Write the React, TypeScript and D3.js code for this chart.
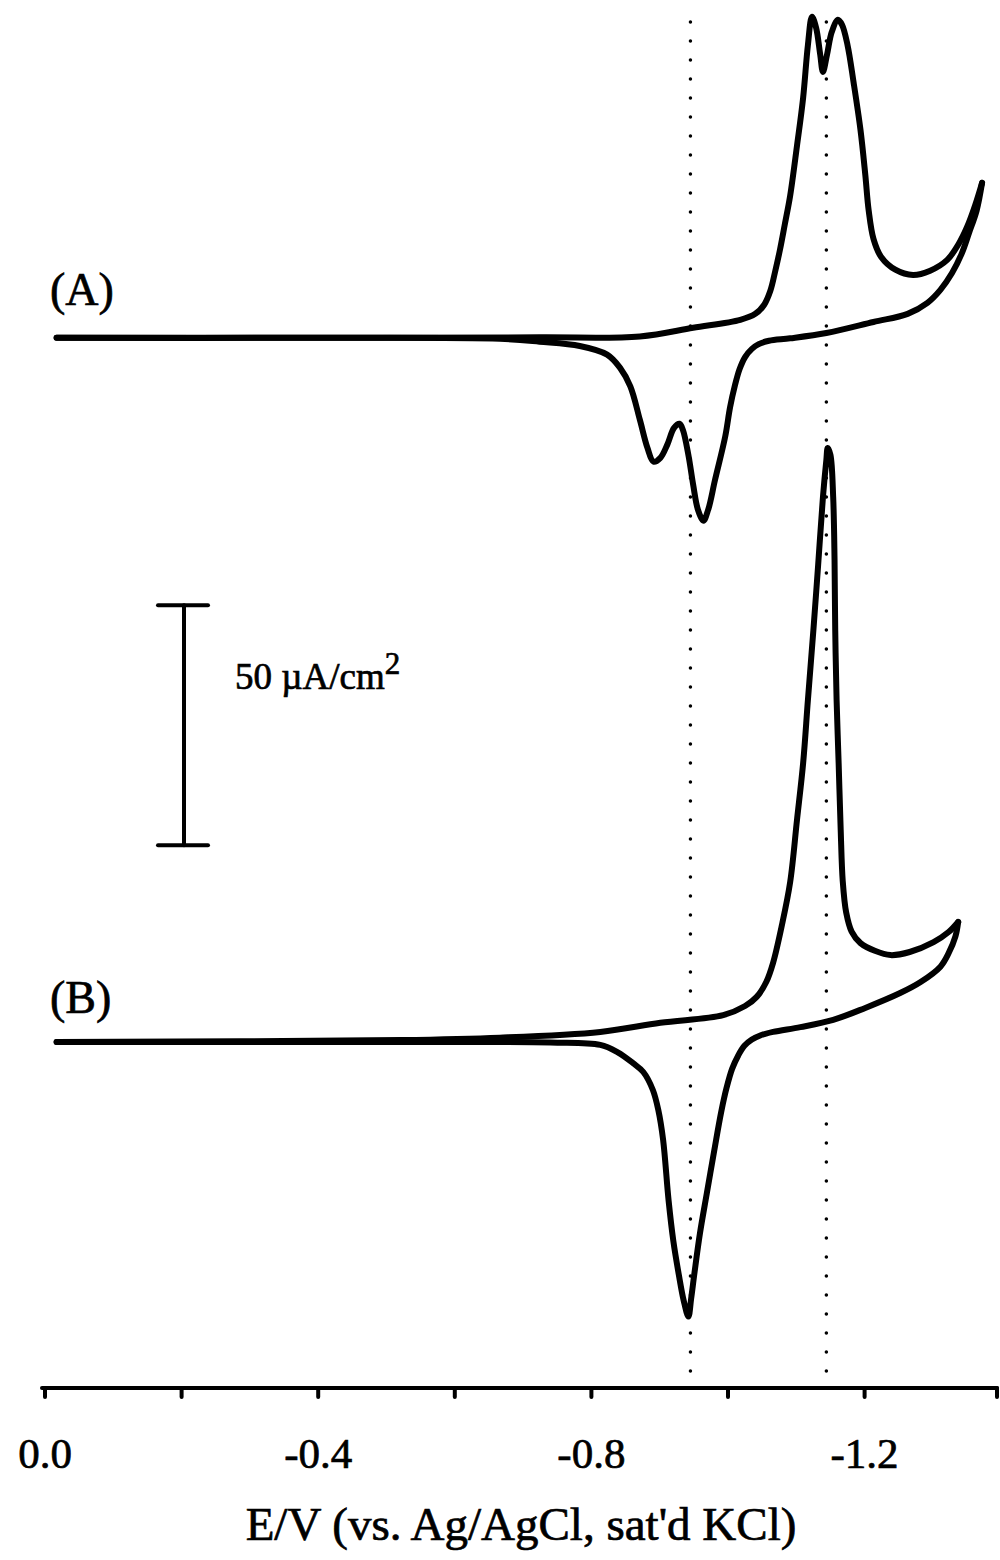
import React from "react";
import * as d3 from "d3";

// potential (V vs Ag/AgCl) and current density (uA/cm2, cathodic up)
const curveAForward: [number, number][] = [
  [-0.017, 0], [-0.373, 0], [-0.724, 0.1], [-0.871, 0.3], [-0.949, 2.1],
  [-1.018, 3.75], [-1.040, 5.0], [-1.053, 6.9], [-1.062, 9.8], [-1.069, 13.8],
  [-1.076, 18.3], [-1.083, 23.5], [-1.091, 29.6], [-1.101, 40.0], [-1.110, 50.0],
  [-1.117, 61.0], [-1.123, 66.9], [-1.129, 64.6], [-1.135, 59.0], [-1.139, 55.4],
  [-1.145, 59.0], [-1.152, 63.75], [-1.161, 66.25], [-1.167, 65.2], [-1.175, 61.0],
  [-1.184, 53.1], [-1.194, 43.3], [-1.201, 34.0], [-1.206, 26.5], [-1.213, 20.6],
  [-1.224, 16.9], [-1.245, 14.2], [-1.271, 13.1], [-1.296, 14.0], [-1.321, 16.25],
  [-1.337, 19.4], [-1.350, 23.1], [-1.362, 27.7], [-1.372, 32.3],
];

const curveAReturn: [number, number][] = [
  [-1.372, 32.3], [-1.364, 26.5], [-1.353, 21.9], [-1.342, 17.5], [-1.328, 13.5],
  [-1.311, 10.0], [-1.292, 7.3], [-1.263, 5.0], [-1.213, 3.3], [-1.144, 1.0],
  [-1.091, -0.1], [-1.060, -0.6], [-1.045, -1.3], [-1.035, -2.3], [-1.025, -4.0],
  [-1.017, -6.5], [-1.010, -10.0], [-1.003, -14.5], [-0.996, -20.5], [-0.981, -29.6],
  [-0.971, -35.8], [-0.964, -38.1], [-0.956, -35.8], [-0.949, -30.6], [-0.942, -24.4],
  [-0.934, -19.2], [-0.929, -17.9], [-0.921, -18.75], [-0.911, -22.3], [-0.901, -25.0],
  [-0.891, -25.8], [-0.882, -22.9], [-0.871, -17.1], [-0.857, -10.1], [-0.842, -6.25],
  [-0.823, -3.5], [-0.783, -1.7], [-0.724, -0.8], [-0.666, -0.2], [-0.373, 0],
  [-0.017, 0],
];

const curveBForward: [number, number][] = [
  [-0.017, 0], [-0.520, 0.4], [-0.666, 0.9], [-0.813, 2.1], [-0.901, 4.0],
  [-0.993, 5.6], [-1.025, 7.5], [-1.042, 9.4], [-1.056, 12.5], [-1.066, 16.5],
  [-1.079, 24.4], [-1.091, 33.3], [-1.101, 46.25], [-1.110, 58.1], [-1.117, 71.25],
  [-1.125, 85.8], [-1.132, 99.4], [-1.139, 113.5], [-1.144, 121.25], [-1.146, 123.75],
  [-1.150, 122.3], [-1.154, 113.5], [-1.156, 100.4], [-1.157, 85.8], [-1.159, 71.25],
  [-1.162, 58.1], [-1.165, 44.2], [-1.168, 33.5], [-1.173, 27.0], [-1.181, 23.0],
  [-1.194, 20.6], [-1.215, 19.0], [-1.238, 18.1], [-1.266, 18.75], [-1.301, 20.8],
  [-1.323, 22.9], [-1.337, 25.0],
];

const curveBReturn: [number, number][] = [
  [-1.337, 25.0], [-1.333, 22.0], [-1.323, 18.5], [-1.311, 15.7], [-1.282, 12.5],
  [-1.252, 10.2], [-1.201, 7.1], [-1.154, 4.6], [-1.106, 3.1], [-1.066, 2.1],
  [-1.048, 1.4], [-1.035, 0.5], [-1.024, -0.8], [-1.015, -2.8], [-1.006, -5.6],
  [-0.998, -9.5], [-0.990, -14.6], [-0.980, -22.5], [-0.969, -31.5], [-0.959, -39.8],
  [-0.951, -48.0], [-0.946, -53.5], [-0.942, -57.2], [-0.935, -53.8], [-0.928, -48.5],
  [-0.920, -41.5], [-0.913, -33.0], [-0.905, -20.4], [-0.898, -14.2], [-0.890, -10.0],
  [-0.876, -6.25], [-0.861, -4.4], [-0.838, -2.1], [-0.813, -0.6], [-0.740, -0.1],
  [-0.520, 0], [-0.017, 0],
];

const tickValues = [0, -0.2, -0.4, -0.6, -0.8, -1.0, -1.2];
const tickLabels = ["0.0", "-0.4", "-0.8", "-1.2"];
const labelValues = [0, -0.4, -0.8, -1.2];
const peakPotentials = [-0.945, -1.144];
const scaleBar = [41, 91]; // 50 uA/cm2

const W = 1000;
const H = 1560;
const offsetA = 146.7; // vertical shift of trace A, uA/cm2
const axisY = 1388;
const font = "'Liberation Serif', 'DejaVu Serif', serif";

export default function App() {
  const x = d3.scaleLinear().domain([0, -1.4]).range([45, 1001.2]);
  const y = d3.scaleLinear().domain([0, 100]).range([1042, 562]);

  const lineA = d3
    .line<[number, number]>()
    .x((d) => x(d[0]))
    .y((d) => y(d[1] + offsetA))
    .curve(d3.curveCatmullRom.alpha(0.5));
  const lineB = d3
    .line<[number, number]>()
    .x((d) => x(d[0]))
    .y((d) => y(d[1]))
    .curve(d3.curveCatmullRom.alpha(0.5));

  const traceStyle = {
    fill: "none",
    stroke: "#000",
    strokeWidth: 6,
    strokeLinejoin: "round" as const,
    strokeLinecap: "round" as const,
  };

  // scanned print looks heavy, thicken glyphs a little
  const textStyle = { fontFamily: font, stroke: "#000", strokeWidth: 0.7 };

  return (
    <svg
      width={W}
      height={H}
      style={{ position: "absolute", left: 0, top: 0, background: "#fff" }}
    >
      {/* dotted guide lines */}
      {peakPotentials.map((p) => (
        <line
          key={p}
          x1={x(p)}
          x2={x(p)}
          y1={22}
          y2={1382}
          stroke="#000"
          strokeWidth={3.5}
          strokeLinecap="round"
          strokeDasharray="0 19"
        />
      ))}

      <path d={lineA(curveAForward) || ""} {...traceStyle} />
      <path d={lineA(curveAReturn) || ""} {...traceStyle} />
      <path d={lineB(curveBForward) || ""} {...traceStyle} />
      <path d={lineB(curveBReturn) || ""} {...traceStyle} />

      <text x={50} y={305} fontSize={46} {...textStyle}>(A)</text>
      <text x={50} y={1013} fontSize={46} {...textStyle}>(B)</text>

      {/* scale bar */}
      <g stroke="#000" strokeWidth={4} strokeLinecap="round">
        <line x1={184} x2={184} y1={y(scaleBar[0])} y2={y(scaleBar[1])} />
        <line x1={158} x2={208} y1={y(scaleBar[0])} y2={y(scaleBar[0])} />
        <line x1={158} x2={208} y1={y(scaleBar[1])} y2={y(scaleBar[1])} />
      </g>
      <text x={235} y={689} fontSize={37} {...textStyle}>
        50 µA/cm<tspan dy={-15} fontSize={31}>2</tspan>
      </text>

      {/* x axis */}
      <g stroke="#000" strokeWidth={4} strokeLinecap="round">
        <line x1={x(0) - 3} x2={997} y1={axisY} y2={axisY} />
        {tickValues.map((t) => (
          <line key={t} x1={x(t)} x2={x(t)} y1={axisY} y2={axisY + 9} />
        ))}
        <line x1={997} x2={997} y1={axisY} y2={axisY + 9} />
      </g>
      {labelValues.map((v, i) => (
        <text
          key={v}
          x={x(v)}
          y={1468}
          textAnchor="middle"
          fontSize={43}
          {...textStyle}
        >
          {tickLabels[i]}
        </text>
      ))}
      <text x={521} y={1540} textAnchor="middle" fontSize={47} {...textStyle}>
        E/V (vs. Ag/AgCl, sat'd KCl)
      </text>
    </svg>
  );
}
